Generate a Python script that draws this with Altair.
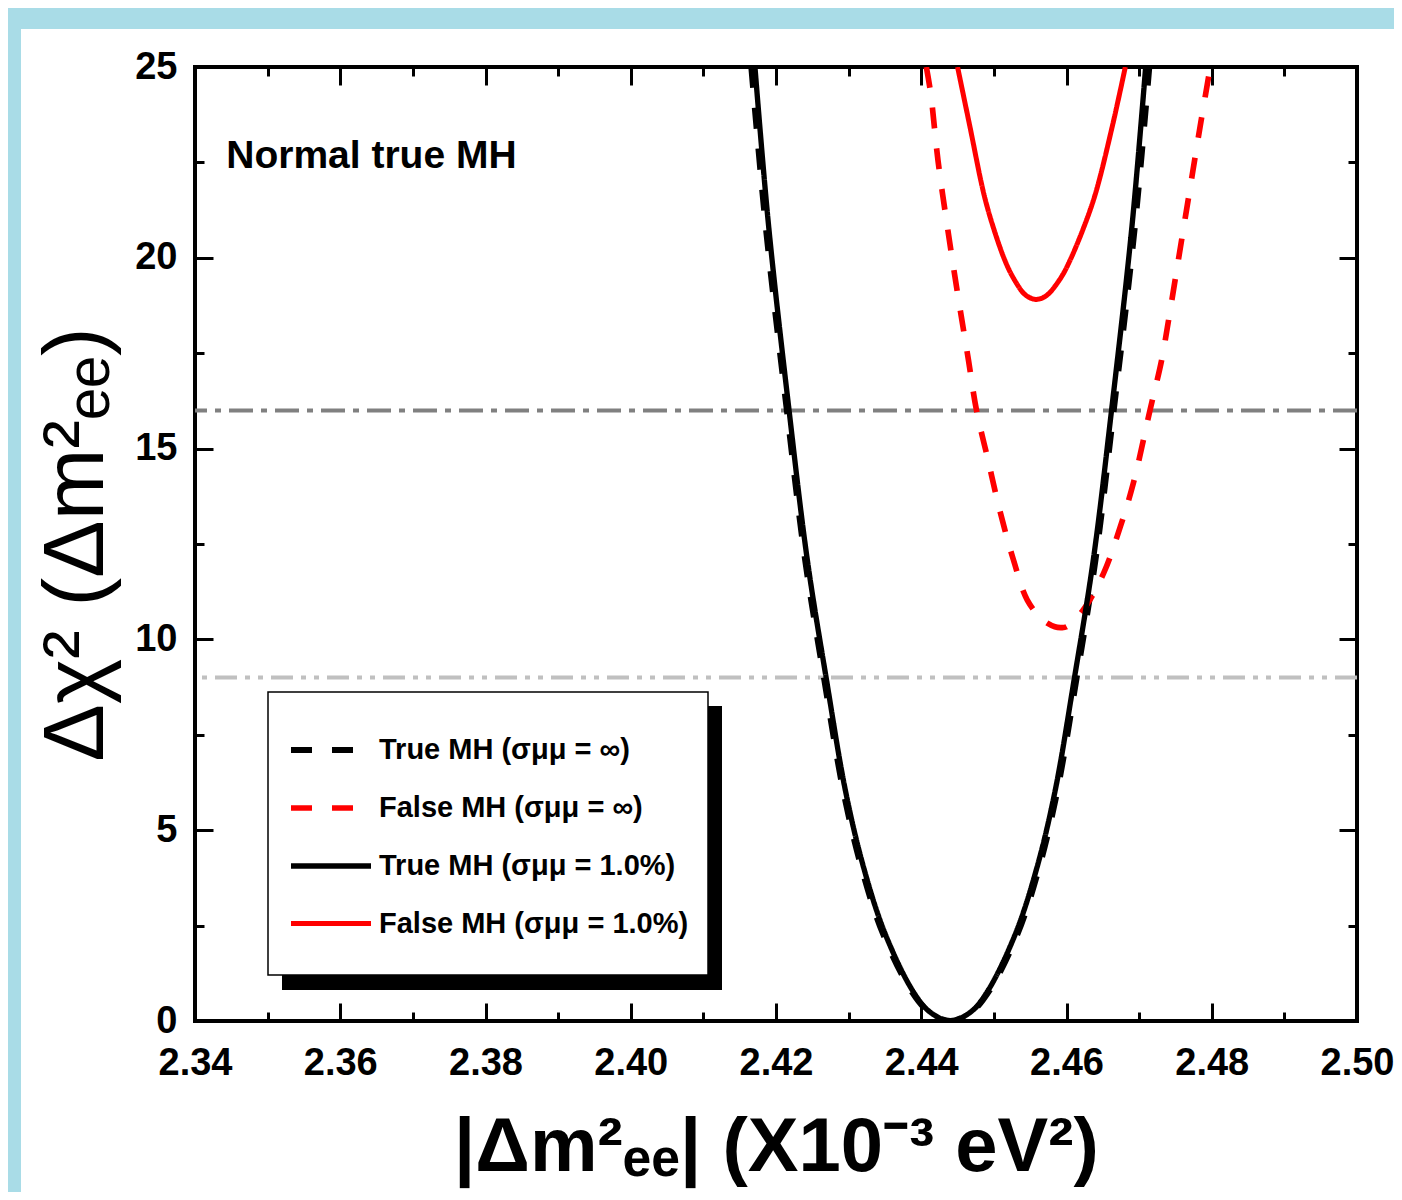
import altair as alt
import pandas as pd

# ---------------- data ----------------
SERIES = ["True MH (σμμ = ∞)", "False MH (σμμ = ∞)",
          "True MH (σμμ = 1.0%)", "False MH (σμμ = 1.0%)"]
COLORS = ["#000000", "#ff0000", "#000000", "#ff0000"]
DASHES = [[21, 20], [21, 20], [1, 0], [1, 0]]
WIDTHS = [6, 5, 5, 5]

# True MH, sigma = inf (black dashed)
true_inf_x = [2.4166, 2.4186, 2.4215, 2.4240, 2.4266, 2.4293, 2.4318, 2.4347,
              2.4386, 2.4410, 2.4440, 2.4470, 2.4494, 2.4533, 2.4562, 2.4587,
              2.4614, 2.4640, 2.4665, 2.4694, 2.4714]
true_inf_y = [25.0, 20.8, 16.0, 12.1, 9.0, 6.0, 4.0, 2.3,
              0.8, 0.25, 0.0, 0.25, 0.8, 2.3, 4.0, 6.0,
              9.0, 12.1, 16.0, 20.8, 25.0]

# False MH, sigma = inf (red dashed)
false_inf_x = [2.4407, 2.4413, 2.4423, 2.4436, 2.4450, 2.4465, 2.4476, 2.4492,
               2.4508, 2.4527, 2.4546, 2.4568, 2.4584, 2.4592, 2.4600, 2.4623,
               2.4651, 2.4674, 2.4692, 2.4715, 2.4731, 2.4739, 2.4754, 2.4769,
               2.4784, 2.4798]
false_inf_y = [25.0, 24.31, 22.56, 20.81, 19.07, 17.32, 16.01, 14.70,
               13.39, 12.08, 11.03, 10.50, 10.33, 10.31, 10.33, 10.77,
               11.73, 12.95, 14.09, 16.01, 17.32, 18.19, 19.94, 21.69,
               23.44, 25.0]

# True MH, sigma = 1.0% (black solid)
true_1_x = [2.4171, 2.4190, 2.4218, 2.4243, 2.4269, 2.4296, 2.4321, 2.4350,
            2.4388, 2.4411, 2.4440, 2.4469, 2.4492, 2.4530, 2.4559, 2.4584,
            2.4611, 2.4637, 2.4662, 2.4690, 2.4709]
true_1_y = [25.0, 20.8, 16.0, 12.1, 9.0, 6.0, 4.0, 2.3,
            0.8, 0.25, 0.0, 0.25, 0.8, 2.3, 4.0, 6.0,
            9.0, 12.1, 16.0, 20.8, 25.0]

# False MH, sigma = 1.0% (red solid)
false_1_x = [2.4450, 2.4467, 2.4486, 2.4499, 2.4515, 2.4526, 2.4541, 2.4550,
             2.4558, 2.4567, 2.4576, 2.4593, 2.4605, 2.4624, 2.4640, 2.4663,
             2.4681]
false_1_y = [25.0, 23.44, 21.69, 20.81, 19.94, 19.50, 19.07, 18.95,
             18.91, 18.95, 19.07, 19.50, 19.94, 20.81, 21.69, 23.44,
             25.0]

REF_LEVELS = [16, 9]
X_LABEL_TICKS = [2.34, 2.36, 2.38, 2.40, 2.42, 2.44, 2.46, 2.48, 2.50]
X_ALL_TICKS = [2.34, 2.35, 2.36, 2.37, 2.38, 2.39, 2.40, 2.41, 2.42, 2.43,
               2.44, 2.45, 2.46, 2.47, 2.48, 2.49, 2.50]
Y_LABEL_TICKS = [0, 5, 10, 15, 20, 25]
Y_ALL_TICKS = [0, 2.5, 5, 7.5, 10, 12.5, 15, 17.5, 20, 22.5, 25]

ANNOT_TEXT = "Normal true MH"
ANNOT_X = 2.3443
ANNOT_Y = 22.35

X_TITLE = "|Δm²ₑₑ| (X10⁻³ eV²)"
Y_TITLE = "Δχ²  (Δm²ₑₑ)"

# ---------------- layout ----------------
W, H = 1162, 954
PAD_L, PAD_T, PAD_R, PAD_B = 187, 59, 37, 171
FONT = "Liberation Sans, Arial, Helvetica, sans-serif"
BLUE = "#a9dce7"

rows = []
for name, xs_, ys_ in [(SERIES[0], true_inf_x, true_inf_y),
                       (SERIES[1], false_inf_x, false_inf_y),
                       (SERIES[2], true_1_x, true_1_y),
                       (SERIES[3], false_1_x, false_1_y)]:
    for xv, yv in zip(xs_, ys_):
        rows.append({"series": name, "x": xv, "y": yv})
curves = pd.DataFrame(rows)
one = pd.DataFrame({"k": [0]})

xs = alt.Scale(domain=[2.34, 2.50], nice=False, zero=False)
ys = alt.Scale(domain=[0, 25], nice=False, zero=False)

legend = alt.Legend(orient="none", legendX=93, legendY=640, symbolType="stroke",
                    symbolSize=6400, symbolStrokeWidth=4, labelFont=FONT,
                    labelFontSize=29, labelFontWeight="bold", labelColor="black",
                    labelOffset=5, rowPadding={"expr": "-19"}, padding=0, labelLimit=0)

label_x_axis = alt.Axis(orient="bottom", values=X_LABEL_TICKS, format=".2f", ticks=False,
                        domain=False, grid=False, labelFont=FONT, labelFontSize=38,
                        labelFontWeight="bold", labelColor="black", labelPadding=23,
                        labelFlush=False, labelOverlap=False, titleFont=FONT,
                        titleFontSize=76, titleFontWeight="bold", titleColor="black",
                        titlePadding=28)
label_y_axis = alt.Axis(orient="left", values=Y_LABEL_TICKS, ticks=False, domain=False,
                        grid=False, labelFont=FONT, labelFontSize=38,
                        labelFontWeight="bold", labelColor="black", labelPadding=18,
                        labelFlush=False, labelOverlap=False, titleFont=FONT,
                        titleFontSize=86, titleFontWeight="normal", titleColor="black",
                        titlePadding=14)

xsize = {"condition": {"test": "round(datum.value*100) % 2 == 0", "value": 18}, "value": 9}
ysize = {"condition": {"test": "datum.value % 5 == 0", "value": 18}, "value": 9}


def tick_axis(orient, offset, values, size):
    return alt.Axis(orient=orient, offset=offset, values=values, labels=False,
                    domain=False, grid=False, ticks=True, tickWidth=3,
                    tickColor="black", tickSize=size)


# background strips (textured blue border in the original)
strip_left = alt.Chart(one).mark_rect(color=BLUE).encode(
    x=alt.value(-PAD_L), x2=alt.value(-174), y=alt.value(-PAD_T), y2=alt.value(H + PAD_B))
strip_top = alt.Chart(one).mark_rect(color=BLUE).encode(
    x=alt.value(-PAD_L), x2=alt.value(W + PAD_R), y=alt.value(-PAD_T), y2=alt.value(-38))

ref_df = pd.DataFrame({"level": REF_LEVELS})
ref16 = alt.Chart(ref_df).transform_filter("datum.level == 16").mark_rule(
    color="#808080", strokeWidth=4, strokeDash=[24, 8, 6, 8]).encode(
    y=alt.Y("level:Q", scale=ys, axis=None))
ref9 = alt.Chart(ref_df).transform_filter("datum.level == 9").mark_rule(
    color="#c0c0c0", strokeWidth=4, strokeDash=[22, 8, 5, 8, 5, 8]).encode(
    y=alt.Y("level:Q", scale=ys, axis=None))

lines = alt.Chart(curves).mark_line(interpolate="catmull-rom", clip=True).encode(
    x=alt.X("x:Q", scale=xs, axis=label_x_axis, title=X_TITLE),
    y=alt.Y("y:Q", scale=ys, axis=label_y_axis, title=Y_TITLE),
    color=alt.Color("series:N", scale=alt.Scale(domain=SERIES, range=COLORS),
                    legend=legend, title=None),
    strokeDash=alt.StrokeDash("series:N", scale=alt.Scale(domain=SERIES, range=DASHES),
                              legend=legend, title=None),
    strokeWidth=alt.StrokeWidth("series:N", scale=alt.Scale(domain=SERIES, range=WIDTHS),
                                legend=None),
    detail="series:N",
)

ticks_a = alt.Chart(curves).mark_point(opacity=0).encode(
    x=alt.X("x:Q", scale=xs, axis=tick_axis("top", -H, X_ALL_TICKS, xsize), title=None),
    y=alt.Y("y:Q", scale=ys, axis=tick_axis("right", -W, Y_ALL_TICKS, ysize), title=None),
)
ticks_b = alt.Chart(curves).mark_point(opacity=0).encode(
    x=alt.X("x:Q", scale=xs, axis=tick_axis("bottom", -H, X_ALL_TICKS, xsize), title=None),
    y=alt.Y("y:Q", scale=ys, axis=tick_axis("left", -W, Y_ALL_TICKS, ysize), title=None),
)

annot = alt.Chart(pd.DataFrame({"x": [ANNOT_X], "y": [ANNOT_Y], "t": [ANNOT_TEXT]})).mark_text(
    align="left", baseline="alphabetic", font=FONT, fontSize=39, fontWeight="bold",
    color="black").encode(
    x=alt.X("x:Q", scale=xs, axis=None), y=alt.Y("y:Q", scale=ys, axis=None), text="t:N")

shadow = alt.Chart(one).mark_rect(color="black").encode(
    x=alt.value(87), x2=alt.value(527), y=alt.value(639), y2=alt.value(923))
box = alt.Chart(one).mark_rect(fill="white", stroke="black", strokeWidth=1.5).encode(
    x=alt.value(73), x2=alt.value(513), y=alt.value(625), y2=alt.value(908))

chart = alt.layer(
    strip_left, strip_top, ref16, ref9, lines, ticks_a, ticks_b, annot, shadow, box
).resolve_axis(x="independent", y="independent").properties(
    width=W, height=H,
    autosize=alt.AutoSizeParams(type="none"),
    padding={"left": PAD_L, "top": PAD_T, "right": PAD_R, "bottom": PAD_B},
    background="white",
).configure_view(stroke="black", strokeWidth=4)

chart.save("out.html", embed_options={"renderer": "svg", "actions": False})
